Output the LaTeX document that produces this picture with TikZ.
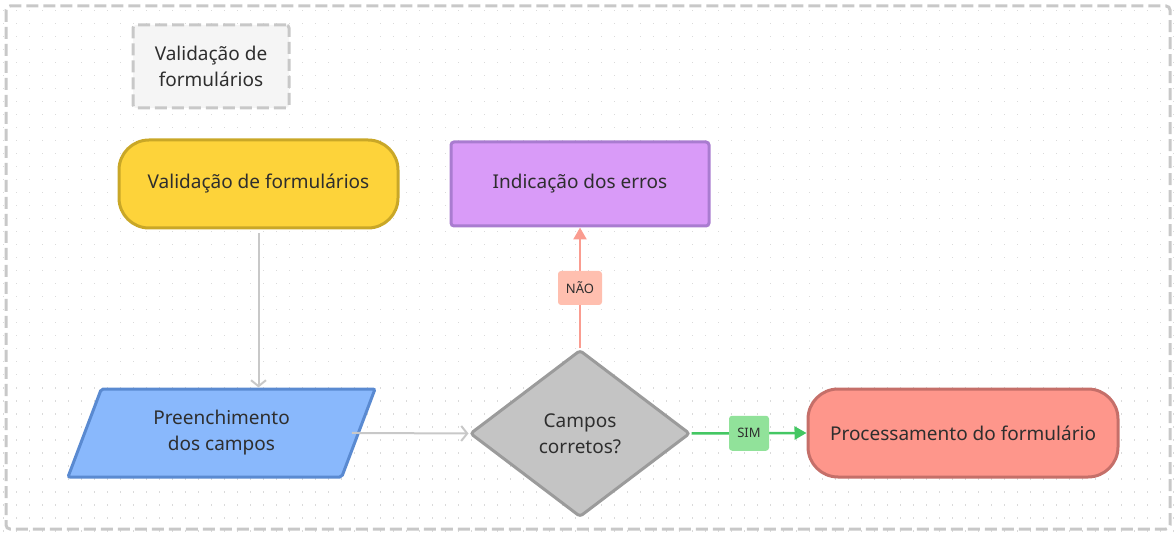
\documentclass[tikz,border=0pt]{standalone}
\usepackage{fontspec}
\setmainfont{Noto Sans}
\usetikzlibrary{shapes.geometric,arrows.meta}
\definecolor{txt}{HTML}{2E2E2E}
\definecolor{framec}{HTML}{C8C8C8}
\definecolor{dotc}{HTML}{DADADA}
\definecolor{yelF}{HTML}{FDD33A}
\definecolor{yelB}{HTML}{C9A727}
\definecolor{purF}{HTML}{D99BF8}
\definecolor{purB}{HTML}{A97CD0}
\definecolor{bluF}{HTML}{89B8FC}
\definecolor{bluB}{HTML}{5A8AD1}
\definecolor{gryF}{HTML}{C4C4C4}
\definecolor{gryB}{HTML}{9B9B9B}
\definecolor{salF}{HTML}{FE968B}
\definecolor{salB}{HTML}{C56F69}
\definecolor{naoF}{HTML}{FFBFAF}
\definecolor{naoA}{HTML}{FA9C90}
\definecolor{simF}{HTML}{91E29A}
\definecolor{simA}{HTML}{44C763}
\definecolor{titF}{HTML}{F5F5F5}
\tikzset{
  base/.style={line width=3pt, text=txt, font=\fontsize{19}{26}\selectfont, align=center, inner sep=0pt},
  terminal/.style={base, rounded corners=30pt, fill=yelF, draw=yelB, minimum width=279pt, minimum height=88pt},
  procbox/.style={base, rounded corners=3pt, fill=purF, draw=purB, minimum width=258pt, minimum height=84pt},
  endbox/.style={base, rounded corners=30pt, fill=salF, draw=salB, minimum width=310pt, minimum height=88pt},
  iobox/.style={base, trapezium, trapezium left angle=53.5, trapezium right angle=126.5, trapezium stretches body, rounded corners=2pt, fill=bluF, draw=bluB, minimum width=307pt, minimum height=88pt},
  decision/.style={base, diamond, fill=gryF, draw=gryB, minimum width=220pt, minimum height=167pt, rounded corners=3pt},
  titlebox/.style={base, dashed, dash pattern=on 12pt off 5pt, draw=framec, fill=titF, rounded corners=3pt, minimum width=156pt, minimum height=83pt},
  graylink/.style={draw=framec, line width=2pt, -{Straight Barb[length=6pt,width=15pt,line width=2pt]}},
  naolink/.style={draw=naoA, line width=2.5pt, -{Triangle[length=12pt,width=13pt]}},
  simlink/.style={draw=simA, line width=2.5pt, -{Triangle[length=12pt,width=13pt]}},
  tag/.style={rounded corners=3pt, text=txt, font=\fontsize{13}{15}\selectfont, inner sep=0pt},
}
\begin{document}
\begin{tikzpicture}[x=1pt,y=-1pt]
\useasboundingbox (0,0) rectangle (1175,534);
% dot grid
\foreach \i in {0,...,90} {
  \foreach \j in {0,...,40} {
    \fill[dotc] ({3.3+13*\i-0.8},{10.7+13*\j-0.8}) rectangle ++(1.6,1.6);
  }
}
% outer frame
\draw[framec, line width=3pt, dash pattern=on 12pt off 5pt, rounded corners=4pt] (6,6) rectangle (1170,529);
% title
\node[titlebox] (title) at (211,66.5) {Validação de\\formulários};
% nodes
\node[terminal] (start) at (258.5,184) {Validação de formulários};
\node[procbox] (err) at (580,184) {Indicação dos erros};
\node[iobox] (fill) at (221.5,433) {Preenchimento\\dos campos};
\node[decision] (dec) at (580,433.5) {Campos\\corretos?};
\node[endbox] (proc) at (963,433) {Processamento do formulário};
% connectors
\draw[graylink, shorten <=4pt] (start.south) -- (start.south |- fill.north);
\draw[graylink, shorten <=-8pt] (fill.east) -- (dec.west);
\draw[naolink] (dec.north) -- node[tag, fill=naoF, minimum width=44pt, minimum height=34pt] (nao) {NÃO} (err.south);
\draw[simlink] (dec.east) -- node[tag, fill=simF, minimum width=40pt, minimum height=35pt] (sim) {SIM} (proc.west);
\end{tikzpicture}
\end{document}
